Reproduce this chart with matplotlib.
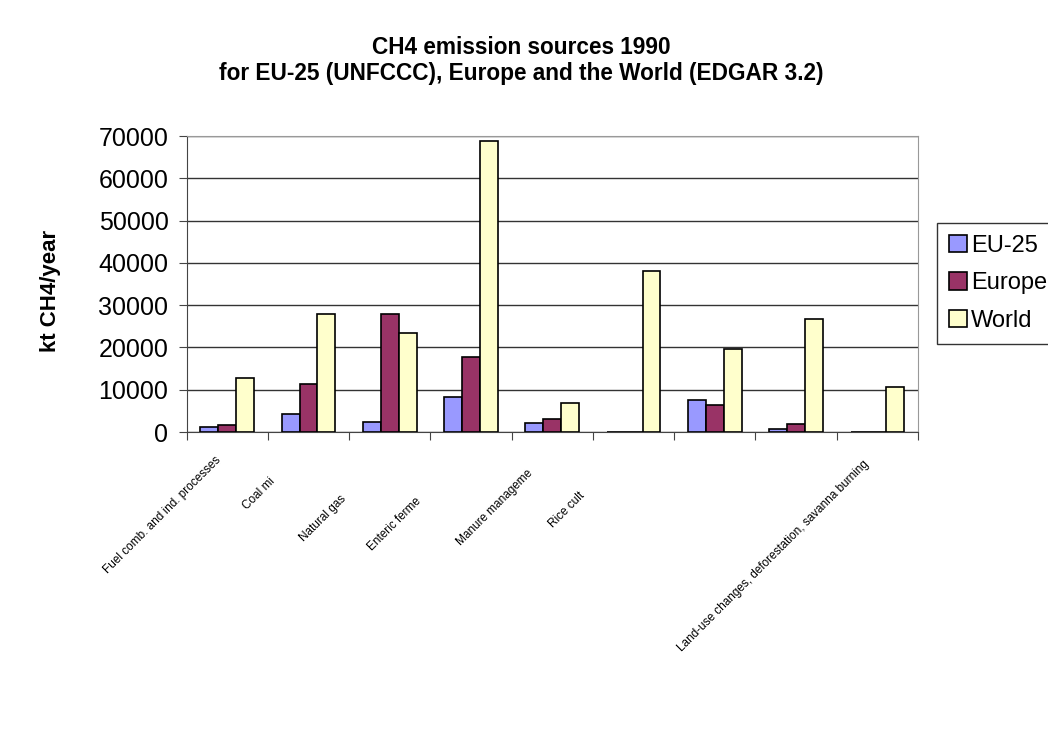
import numpy as np
import matplotlib
matplotlib.use("Agg")
import matplotlib.pyplot as plt
import matplotlib.transforms as mtransforms

plt.rcParams['font.family'] = ['Liberation Sans', 'DejaVu Sans']

categories = ["Fuel comb. and ind. processes", "Coal mi", "Natural gas", "Enteric ferme",
              "Manure manageme", "Rice cult", "", "", "Land-use changes, deforestation, savanna burning"]
series_names = ["EU-25", "Europe", "World"]
eu25 = [1200, 4250, 2350, 8350, 2050, 0, 7550, 800, 0]
europe = [1650, 11300, 28000, 17800, 3150, 0, 6450, 1950, 0]
world = [12900, 28000, 23450, 68800, 6850, 38200, 19600, 26850, 10600]
colors = ["#9999FF", "#993366", "#FFFFCC"]
yticks = [0, 10000, 20000, 30000, 40000, 50000, 60000, 70000]

# pixel nudges for the category labels (Excel places truncated labels oddly)
label_shift = [(-12, 22), (-40, 43), (-50, 61), (-56, 63), (-26, 35), (-55, 58), (0, 0), (0, 0), (-15, 26)]

fig = plt.figure(figsize=(10.48, 7.36), dpi=100)
ax = fig.add_axes([0.178, 0.413, 0.698, 0.402])

x = np.arange(len(categories))
w = 0.22
for i, (vals, name) in enumerate(zip([eu25, europe, world], series_names)):
    ax.bar(x + (i - 1) * w, vals, w, color=colors[i], edgecolor="black", linewidth=1.2,
           label=name, zorder=3)

ax.set_xlim(-0.5, len(categories) - 0.5)
ax.set_ylim(0, 70000)
ax.set_yticks(yticks)
ax.set_yticklabels([str(v) for v in yticks], fontsize=18)
ax.yaxis.grid(True, color="#333333", linewidth=1, zorder=0)

ax.set_xticks(np.arange(len(categories) + 1) - 0.5)
ax.set_xticklabels([])
for xi, name, (dx, dy) in zip(x, categories, label_shift):
    tr = ax.get_xaxis_transform() + mtransforms.ScaledTranslation(dx / 100, -dy / 100, fig.dpi_scale_trans)
    ax.text(xi, 0, name, transform=tr, rotation=45, ha="right", va="top",
            rotation_mode="anchor", fontsize=8.5, clip_on=False)
ax.tick_params(axis="x", length=6, direction="out", color="#444444")
ax.tick_params(axis="y", length=6, direction="out", color="#444444", pad=7)

for s in ["top", "right"]:
    ax.spines[s].set_color("#999999")
for s in ["left", "bottom"]:
    ax.spines[s].set_color("#444444")

ax.set_ylabel("kt CH4/year", fontsize=16, fontweight="bold")
ax.yaxis.set_label_coords(-0.171, 0.476)

fig.text(0.497, 0.918, "CH4 emission sources 1990\nfor EU-25 (UNFCCC), Europe and the World (EDGAR 3.2)",
         ha="center", va="center", fontsize=16.3, fontweight="bold", linespacing=1.15)

leg = fig.legend(loc="upper left", bbox_to_anchor=(0.894, 0.697), fontsize=17,
                 frameon=True, fancybox=False, edgecolor="black", handlelength=0.76,
                 handleheight=0.76, handletextpad=0.2, borderpad=0.5, labelspacing=0.66,
                 borderaxespad=0)
leg.get_frame().set_linewidth(1)
for p in leg.get_patches():
    p.set_linewidth(1.2)

fig.savefig("out.png", dpi=100)
